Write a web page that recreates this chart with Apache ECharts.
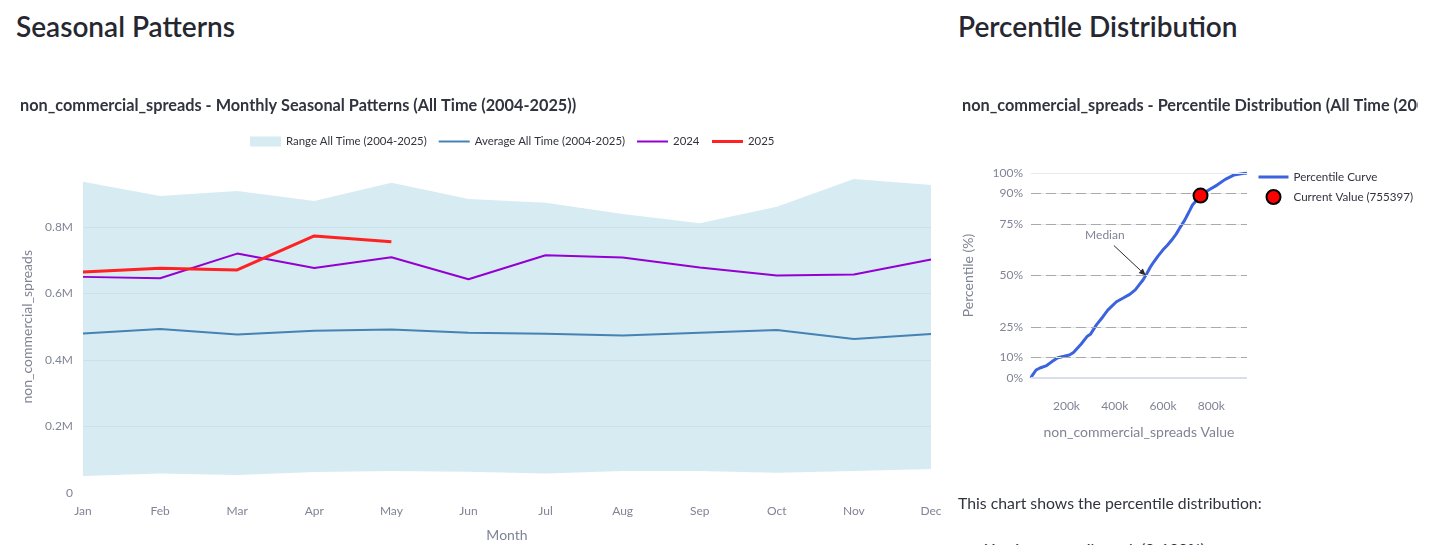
<!DOCTYPE html>
<html>
<head>
<meta charset="utf-8">
<script src="https://cdn.jsdelivr.net/npm/echarts@6/dist/echarts.min.js"></script>
<style>
  body { margin: 0; background: #fff; font-family: Lato, "Noto Sans", sans-serif; }
  #page { position: relative; width: 1456px; height: 545px; overflow: hidden; }
  .heading { position: absolute; font-size: 28px; font-weight: 600; color: #262730; line-height: 1; }
  .para { position: absolute; font-size: 16px; color: #31333f; white-space: nowrap; }
  #seasonal { position: absolute; left: 0; top: 80px; width: 945px; height: 465px; }
  #percentile { position: absolute; left: 940px; top: 80px; width: 478px; height: 400px; }
</style>
</head>
<body>
<div id="page">
  <div class="heading" style="left:16px; top:12px;">Seasonal Patterns</div>
  <div class="heading" style="left:958px; top:12px;">Percentile Distribution</div>
  <div id="seasonal"></div>
  <div id="percentile"></div>
  <div class="para" style="left:958px; top:493px; font-size:15.8px;">This chart shows the percentile distribution:</div>
  <div class="para" style="left:960px; top:539px; font-size:15.8px;">•&nbsp;&nbsp;&nbsp;&nbsp;Y-axis: percentile rank (0-100%)</div>
</div>
<script>
// monthly seasonal data
const months = ['Jan', 'Feb', 'Mar', 'Apr', 'May', 'Jun', 'Jul', 'Aug', 'Sep', 'Oct', 'Nov', 'Dec'];
const rangeLow = [51000, 59000, 54000, 63000, 66000, 64000, 59000, 66000, 66000, 61000, 66000, 72000];
const rangeHigh = [936000, 893000, 908000, 878000, 933000, 884000, 873000, 839000, 811000, 861000, 944000, 926000];
const avgAllTime = [480000, 493000, 477000, 488000, 492000, 482000, 479000, 474000, 482000, 490000, 463000, 478000];
const y2024 = [650000, 646000, 720000, 677000, 709000, 643000, 715000, 708000, 678000, 654000, 657000, 702000];
const y2025 = [665000, 676000, 671000, 773000, 755397];

// percentile curve
const curveValues = [53000, 57000, 74000, 90000, 115000, 140000, 164000, 190000, 212000, 229000, 261000, 285000, 299000,
  324000, 351000, 372000, 407000, 435000, 462000, 485000, 501000, 517000, 532000, 547000, 562000, 580000, 599000,
  618000, 636000, 655000, 671000, 690000, 701000, 712000, 722000, 740000, 755000, 789000, 824000, 858000, 893000,
  930000, 948000];
const curvePct = [0, 1, 3.9, 4.9, 5.9, 8, 9.9, 10.6, 11.2, 12.4, 16.6, 20.2, 21.3,
  25.9, 29.9, 33.2, 37.2, 39, 40.8, 43, 45.4, 47.8, 50.7, 54, 56.7, 59.6, 62.4,
  64.8, 67.3, 70.3, 73.5, 77, 79.5, 82, 84.4, 86.8, 89, 91.7, 94.1, 96.9, 99,
  99.7, 100];
const currentValue = 755397;
const currentPct = 89;
const medianValue = 529000;
const pctTicks = [0, 10, 25, 50, 75, 90, 100];
const dashedTicks = [10, 25, 50, 75, 90];
const valueTicks = [200000, 400000, 600000, 800000];

const FONT = 'Lato';
const GREY = '#808495';
const TEXT = '#31333f';
const GRID = '#e6eaf1';
const BAND = 'rgba(173,216,230,0.5)';

const seasonal = echarts.init(document.getElementById('seasonal'));
seasonal.setOption({
    animation: false,
    textStyle: { fontFamily: FONT },
    title: {
        text: 'non_commercial_spreads - Monthly Seasonal Patterns (All Time (2004-2025))',
        left: 20, top: 18, padding: 0,
        textStyle: { fontFamily: FONT, fontSize: 16.3, fontWeight: 'bold', color: TEXT }
    },
    legend: {
        left: 245, top: 51,
        itemWidth: 31, itemHeight: 10, itemGap: 11,
        textStyle: { fontFamily: FONT, fontSize: 11.4, color: TEXT },
        data: [
            { name: 'Range All Time (2004-2025)', icon: 'rect', itemStyle: { color: BAND } },
            { name: 'Average All Time (2004-2025)', itemStyle: { opacity: 0 }, lineStyle: { width: 2 } },
            { name: '2024', itemStyle: { opacity: 0 }, lineStyle: { width: 2 } },
            { name: '2025', itemStyle: { opacity: 0 }, lineStyle: { width: 3 } }
        ]
    },
    grid: { left: 83, right: 14, top: 80.5, bottom: 52, outerBoundsMode: 'none' },
    xAxis: {
        type: 'category',
        data: months,
        boundaryGap: false,
        axisLine: { show: false },
        axisTick: { show: false },
        axisLabel: { color: GREY, fontSize: 12, margin: 12 },
        name: 'Month', nameLocation: 'middle', nameGap: 35,
        nameTextStyle: { color: GREY, fontSize: 14 }
    },
    yAxis: {
        type: 'value',
        min: 0, max: 1000000, interval: 200000,
        axisLabel: {
            color: GREY, fontSize: 12, margin: 10, showMaxLabel: false,
            formatter: v => v === 0 ? '0' : (v / 1e6) + 'M'
        },
        splitLine: { lineStyle: { color: GRID }, showMinLine: false, showMaxLine: false },
        name: 'non_commercial_spreads', nameLocation: 'middle', nameGap: 49,
        nameTextStyle: { color: GREY, fontSize: 14 }
    },
    series: [
        {
            name: 'rangeLow', type: 'line', stack: 'range', data: rangeLow,
            symbol: 'none', lineStyle: { width: 0 }, silent: true
        },
        {
            name: 'Range All Time (2004-2025)', type: 'line', stack: 'range',
            data: rangeHigh.map((v, i) => v - rangeLow[i]),
            symbol: 'none', lineStyle: { width: 0 },
            itemStyle: { color: BAND },
            areaStyle: { color: BAND, opacity: 1 }
        },
        {
            name: 'Average All Time (2004-2025)', type: 'line', data: avgAllTime,
            symbol: 'none', lineStyle: { color: '#4682b4', width: 2 }, itemStyle: { color: '#4682b4' }
        },
        {
            name: '2024', type: 'line', data: y2024,
            symbol: 'none', lineStyle: { color: '#9400d3', width: 2 }, itemStyle: { color: '#9400d3' }
        },
        {
            name: '2025', type: 'line', data: y2025,
            symbol: 'none', lineStyle: { color: '#ff2222', width: 3 }, itemStyle: { color: '#ff2222' }
        }
    ]
});

const pctChart = echarts.init(document.getElementById('percentile'));
pctChart.setOption({
    animation: false,
    textStyle: { fontFamily: FONT },
    title: {
        text: 'non_commercial_spreads - Percentile Distribution (All Time (2004-2025))',
        left: 22, top: 18, padding: 0,
        textStyle: { fontFamily: FONT, fontSize: 16.3, fontWeight: 'bold', color: TEXT }
    },
    legend: {
        orient: 'vertical', left: 312, top: 86,
        itemWidth: 30, itemHeight: 14, itemGap: 6,
        textStyle: { fontFamily: FONT, fontSize: 11.6, color: TEXT },
        data: [
            { name: 'Percentile Curve', itemStyle: { opacity: 0 }, lineStyle: { width: 3 } },
            'Current Value (755397)'
        ]
    },
    grid: { left: 91, right: 171, top: 93, bottom: 102, outerBoundsMode: 'none' },
    xAxis: {
        type: 'value', min: 'dataMin', max: 'dataMax',
        axisLine: { show: false }, axisTick: { show: false }, splitLine: { show: false },
        axisLabel: {
            color: GREY, fontSize: 12, margin: 22, customValues: valueTicks,
            formatter: v => (v / 1000) + 'k'
        },
        name: 'non_commercial_spreads Value', nameLocation: 'middle', nameGap: 47,
        nameTextStyle: { color: GREY, fontSize: 14 }
    },
    yAxis: {
        type: 'value', min: 0, max: 100,
        axisLine: { show: false }, axisTick: { show: false }, splitLine: { show: false },
        axisLabel: { color: GREY, fontSize: 12, margin: 8, customValues: pctTicks, formatter: v => v + '%' },
        name: 'Percentile (%)', nameLocation: 'middle', nameGap: 56,
        nameTextStyle: { color: GREY, fontSize: 14 }
    },
    series: [
        {
            // grid lines and dashed reference lines, kept under the curve
            type: 'line', data: [], z: 1, silent: true,
            markLine: {
                silent: true, symbol: 'none', label: { show: false },
                data: pctTicks.map(t => ({
                    yAxis: t,
                    lineStyle: { color: t === 0 ? '#d9dee8' : GRID, width: t === 0 ? 2 : 1, type: 'solid' }
                })).concat(dashedTicks.map(t => ({
                    yAxis: t,
                    lineStyle: { color: '#a9a9a9', width: 1.2, type: [10, 5] }
                })))
            }
        },
        {
            name: 'Percentile Curve', type: 'line', z: 3,
            data: curveValues.map((v, i) => [v, curvePct[i]]),
            symbol: 'none', lineStyle: { color: '#3b63dd', width: 3 }, itemStyle: { color: '#3b63dd' }
        },
        {
            name: 'Current Value (755397)', type: 'scatter', z: 5,
            data: [[currentValue, currentPct]],
            symbolSize: 14, symbolKeepAspect: true,
            itemStyle: { color: '#ff0000', borderColor: '#000', borderWidth: 2, opacity: 1 }
        }
    ]
});

// "Median" annotation with an arrow pointing at the 50% crossing
const head = pctChart.convertToPixel({ xAxisIndex: 0, yAxisIndex: 0 }, [medianValue, 50]);
const tail = [head[0] - 32, head[1] - 30];
const ang = Math.atan2(head[1] - tail[1], head[0] - tail[0]);
const al = 7, aw = 3;
const bx = head[0] - al * Math.cos(ang), by = head[1] - al * Math.sin(ang);
pctChart.setOption({
    graphic: [
        { type: 'line', shape: { x1: tail[0], y1: tail[1], x2: bx, y2: by }, style: { stroke: '#2a2a2a', lineWidth: 1 }, z: 10 },
        {
            type: 'polygon', z: 10,
            shape: { points: [head, [bx + aw * Math.sin(ang), by - aw * Math.cos(ang)], [bx - aw * Math.sin(ang), by + aw * Math.cos(ang)]] },
            style: { fill: '#2a2a2a' }
        },
        {
            type: 'text', z: 10, x: head[0] - 41, y: head[1] - 40,
            style: { text: 'Median', fill: GREY, font: '12px Lato', align: 'center', verticalAlign: 'middle' }
        }
    ]
});
</script>
</body>
</html>
